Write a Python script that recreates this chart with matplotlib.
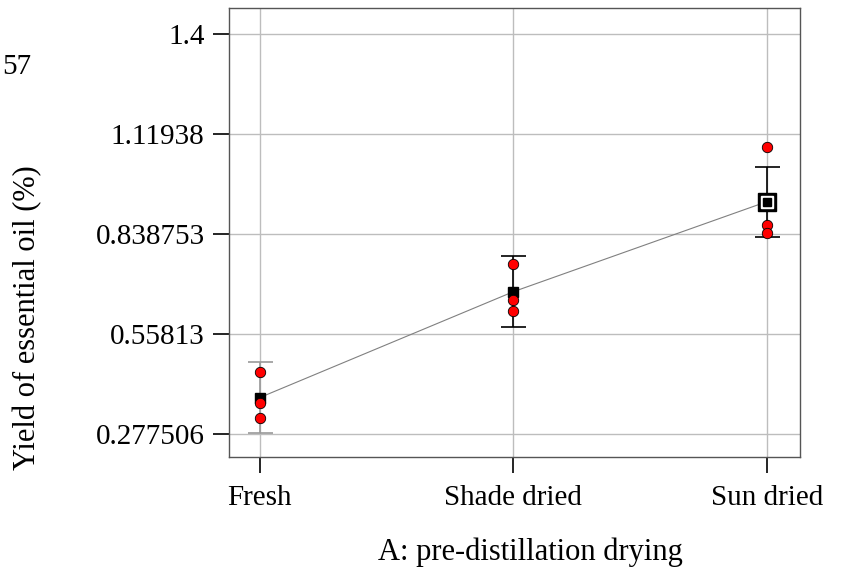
import matplotlib
matplotlib.use("Agg")
from matplotlib import pyplot as plt
import numpy as np

plt.rcParams['font.family'] = ['Liberation Serif', 'DejaVu Serif']

categories = ["Fresh", "Shade dried", "Sun dried"]
obs_fresh = [0.453, 0.364, 0.323]
obs_shade = [0.754, 0.653, 0.624]
obs_sun = [1.084, 0.863, 0.842]
lsd_half = [0.099, 0.0997, 0.098]
bar_colors = ["#999999", "black", "black"]
yticks = [0.277506, 0.55813, 0.838753, 1.11938, 1.4]
ytick_labels = ["0.277506", "0.55813", "0.838753", "1.11938", "1.4"]

obs = [obs_fresh, obs_shade, obs_sun]
means = [np.mean(o) for o in obs]
x = np.arange(len(categories))

fig = plt.figure(figsize=(8.54, 5.71), dpi=100)
ax = fig.add_axes([0.2681, 1 - 457 / 571, 0.6686, (457 - 8) / 571])

ax.set_xlim(-0.122, 2.13)
ax.set_ylim(0.2131, 1.473)
ax.set_yticks(yticks)
ax.set_yticklabels(ytick_labels)
ax.set_xticks(x)
ax.set_xticklabels(categories)
ax.grid(True, color="#bdbdbd", linewidth=1.0)
ax.set_axisbelow(True)

ax.plot(x, means, color="#808080", linewidth=0.8, zorder=2)

for i in range(len(categories)):
    ax.errorbar(x[i], means[i], yerr=lsd_half[i], fmt="none", ecolor=bar_colors[i],
                elinewidth=1.2, capsize=9, capthick=1.2, zorder=3)
    ax.plot([x[i]] * len(obs[i]), obs[i], "o", color="red", markeredgecolor="black",
            markeredgewidth=0.6, markersize=7.5, zorder=5)

# mean markers
ax.plot(x[:2], means[:2], "s", color="black", markersize=7, zorder=4)
ax.plot(x[2], means[2], "s", color="black", markersize=13, zorder=4)
ax.plot(x[2], means[2], "s", color="white", markersize=9, zorder=4)
ax.plot(x[2], means[2], "s", color="black", markersize=5.5, zorder=4)

for s in ax.spines.values():
    s.set_color("#555555")
    s.set_linewidth(1.0)
ax.tick_params(axis="both", direction="out", length=11.5, width=1.2, color="black",
               labelsize=21)
ax.tick_params(axis="x", pad=9)
ax.tick_params(axis="y", pad=6)

fig.text(530 / 854, 1 - 560 / 571, "A: pre-distillation drying", fontsize=22,
         ha="center", va="baseline")
fig.text(28 / 854, 1 - 318 / 571, "Yield of essential oil (%)", fontsize=22,
         rotation=90, ha="center", va="center")

fig.text(0.002, 1 - 67 / 571, "57", fontsize=21, ha="left", va="center")

fig.savefig("out.png", dpi=100)
